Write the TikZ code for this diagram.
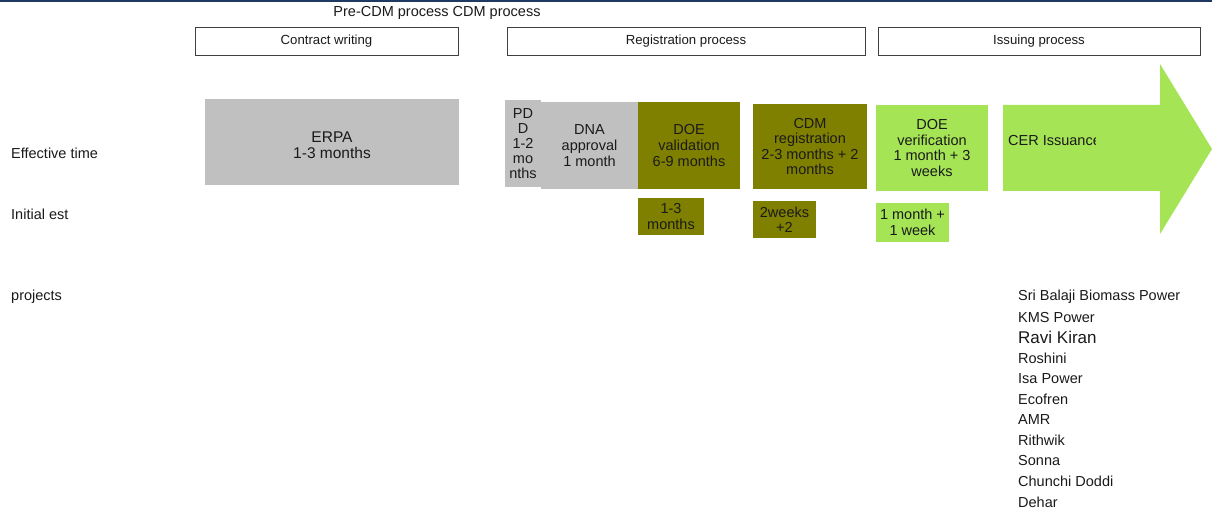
\documentclass[tikz,border=0pt]{standalone}
\usepackage{fontspec}
\setmainfont{Liberation Sans}
\definecolor{navy}{HTML}{1F3864}
\definecolor{boxgray}{HTML}{C0C0C0}
\definecolor{olivebox}{HTML}{808000}
\definecolor{limebox}{HTML}{A5E555}
\definecolor{inktext}{HTML}{1A1A1A}
\definecolor{frame}{HTML}{404040}
\begin{document}
\begin{tikzpicture}[x=1pt,y=-1pt,
  lbl/.style={inner sep=0pt,font=\fontsize{14.5}{16}\selectfont,text=inktext},
  hdr/.style={draw=frame,line width=0.9pt,minimum height=28pt,inner sep=0pt,
              font=\fontsize{13.2}{15}\selectfont,text=inktext},
  tbox/.style={inner sep=0pt,align=center,text=inktext,
                font=\fontsize{14.5}{15.5}\selectfont},
  gbox/.style={tbox,fill=boxgray},
  obox/.style={tbox,fill=olivebox},
  lbox/.style={tbox,fill=limebox},
  proj/.style={anchor=west,inner sep=0pt,text=inktext,
               font=\fontsize{14.5}{16}\selectfont}]
\useasboundingbox (0,0) rectangle (1212,513);
\fill[white] (0,0) rectangle (1212,513);
% top rule
\fill[navy] (0,0) rectangle (1212,1.6);

% phase headers
\node[lbl] (phase) at (437,13) {Pre-CDM process CDM process};
\node[hdr,minimum width=263pt] (contract) at (326.5,41) {Contract writing};
\node[hdr,minimum width=358pt] (regproc) at (686,41) {Registration process};
\node[hdr,minimum width=322pt] (issproc) at (1039,41) {Issuing process};

% row labels
\node[lbl,anchor=west] (efftime) at (11,153) {Effective time};
\node[lbl,anchor=west] (initest) at (11,214) {Initial est};
\node[lbl,anchor=west] (projects) at (11,297) {projects};

% CER issuance arrow
\fill[limebox] (1003,105) -- (1160,105) -- (1160,64) -- (1212,149)
  -- (1160,234) -- (1160,191) -- (1003,191) -- cycle;
\begin{scope}
  \clip (1003,100) rectangle (1095,200);
  \node[tbox,anchor=west] (cer) at (1008,141) {CER Issuance};
\end{scope}

% effective time boxes
\node[gbox,minimum width=254pt,minimum height=86pt] (erpa) at (332,142) {};
\node[tbox,font=\fontsize{15.5}{16.5}\selectfont] (erpatext) at (332,145)
  {ERPA\\1-3 months};
\node[gbox,minimum width=36pt,minimum height=87pt,
      font=\fontsize{14.5}{15}\selectfont] (pdd) at (523,143.5)
  {PD\\D\\1-2\\mo\\nths};
\node[gbox,minimum width=97pt,minimum height=87pt,
      font=\fontsize{14.5}{16}\selectfont] (dna) at (589.5,145.5)
  {DNA\\approval\\1 month};
\node[obox,minimum width=102pt,minimum height=87pt,
      font=\fontsize{14.5}{16}\selectfont] (doeval) at (689,145.5)
  {DOE\\validation\\6-9 months};
\node[obox,minimum width=114pt,minimum height=85pt] (cdmreg) at (810,146.5)
  {CDM\\registration\\2-3 months + 2\\months};
\node[lbox,minimum width=112pt,minimum height=86pt] (doever) at (932,148)
  {DOE\\verification\\1 month + 3\\weeks};

% initial estimate boxes
\node[obox,minimum width=66pt,minimum height=37pt] (estval) at (671,216.5)
  {1-3\\months};
\node[obox,minimum width=63pt,minimum height=37pt] (estreg) at (784.5,219.5)
  {2weeks\\+2};
\node[lbox,minimum width=73pt,minimum height=39pt] (estver) at (912.5,222.5)
  {1 month +\\1 week};

% project list
\node[proj] (p1) at (1018,297) {Sri Balaji Biomass Power};
\node[proj] (p2) at (1018,317.5) {KMS Power};
\node[proj,font=\fontsize{17}{19}\selectfont] (p3) at (1018,337.5) {Ravi Kiran};
\node[proj] (p4) at (1018,358.5) {Roshini};
\node[proj] (p5) at (1018,379) {Isa Power};
\node[proj] (p6) at (1018,399.5) {Ecofren};
\node[proj] (p7) at (1018,420) {AMR};
\node[proj] (p8) at (1018,440.5) {Rithwik};
\node[proj] (p9) at (1018,461) {Sonna};
\node[proj] (p10) at (1018,481.5) {Chunchi Doddi};
\node[proj] (p11) at (1018,502) {Dehar};
\end{tikzpicture}
\end{document}
